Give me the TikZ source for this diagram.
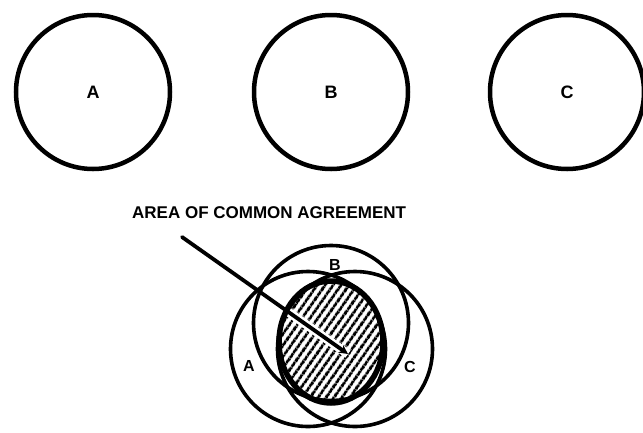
\documentclass[tikz,border=0pt]{standalone}
\usepackage{fontspec}
\setmainfont{Liberation Sans}
\usetikzlibrary{patterns.meta,arrows.meta}
\begin{document}
\begin{tikzpicture}[x=1pt,y=-1pt,
  topcirc/.style={circle,draw,line width=4.5pt,minimum size=154pt,inner sep=0pt,font=\bfseries\fontsize{18}{20}\selectfont},
  venncirc/.style={circle,draw,line width=3.6pt,minimum size=155pt,inner sep=0pt},
  lab/.style={font=\bfseries\fontsize{16}{18}\selectfont,inner sep=0pt},
  caption/.style={font=\bfseries\fontsize{17}{20}\selectfont,inner sep=0pt}]
\useasboundingbox (0,0) rectangle (643,432);
% top circles
\node[topcirc] (A) at (93,92) {A};
\node[topcirc] (B) at (331,92) {B};
\node[topcirc] (C) at (567,92) {C};
% caption
\node[caption,anchor=west] (cap) at (132,213) {AREA OF COMMON AGREEMENT};
% venn circles
\node[venncirc] (vB) at (331,323) {};
\node[venncirc] (vA) at (308,349) {};
\node[venncirc] (vC) at (355,349) {};
% common area
\fill[pattern={Lines[angle=55,distance=6.5pt,line width=3.2pt]}] (331,342) ellipse (52pt and 61pt);
\draw[line width=5.5pt] (331,342) ellipse (52pt and 61pt);
% labels
\node[lab] (lB) at (335,265) {B};
\node[lab] (lA) at (249,366) {A};
\node[lab] (lC) at (410,367) {C};
% pointer
\coordinate (s) at (182,237);
\coordinate (e) at (348,354);
\begin{scope}
\clip (331,342) ellipse (49pt and 58pt);
\draw[white,line width=9pt] (s) -- (e);
\end{scope}
\draw[line width=3.8pt,line cap=round,-{Stealth[length=9pt,width=9pt]}] (s) -- (e);
\end{tikzpicture}
\end{document}
